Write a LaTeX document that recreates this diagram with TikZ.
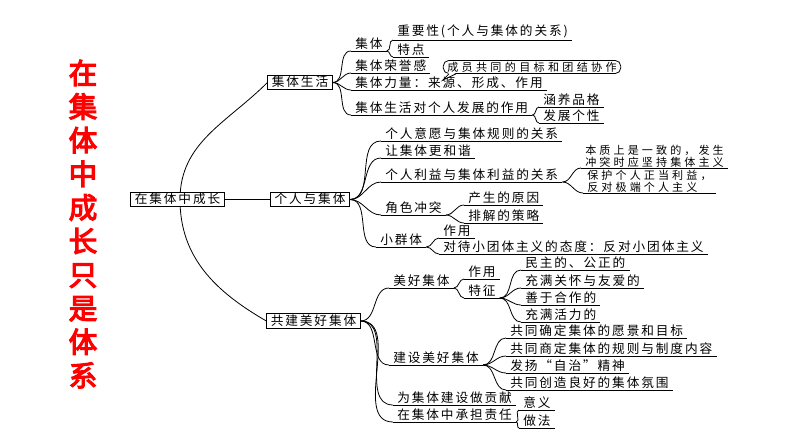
\documentclass[tikz,border=0pt]{standalone}
\usepackage{fontspec}
\setmainfont{Noto Sans CJK SC}[LetterSpace=15]
\newfontfamily\titlefont{Noto Sans CJK SC}[AutoFakeBold=4]
\newfontfamily\notefont{Noto Sans CJK SC}[LetterSpace=30]
\newfontfamily\pairfont{Noto Sans CJK SC}[LetterSpace=28]
\usetikzlibrary{calc}
\tikzset{% styles for the mind map
  box/.style={draw, fill=white, line width=0.6pt, inner xsep=3pt, inner ysep=1pt,
    text height=7.5pt, text depth=1.5pt, font=\fontsize{9.5}{11}\selectfont},
  item/.style={anchor=south west, inner xsep=3pt, inner ysep=1pt,
    font=\fontsize{9.5}{11}\selectfont},
  twoline/.style={item, inner ysep=0.2pt, align=left, font=\pairfont\fontsize{8.3}{7.7}\selectfont},
  link/.style={line width=0.6pt}
}

\begin{document}
\begin{tikzpicture}[x=0.75pt, y=-0.75pt]
\useasboundingbox (0,0) rectangle (794,447);

% title
\node [text=red, align=center, font=\titlefont\bfseries\fontsize{21.5}{25.2}\selectfont] (title) at (83,224)
  {在\\集\\体\\中\\成\\长\\只\\是\\体\\系};

% main branches
\node [box] (jtsh) at (300,82.5) {集体生活};
\node [box] (grjt) at (310,199.5) {个人与集体};
\node [box] (gjjt) at (313.5,321) {共建美好集体};
\coordinate (hub) at (180,199.5);
\draw [link] (jtsh.west) to[out=225,in=90] (hub) to[out=-90,in=150] (gjjt.west);
\node [box] (root) at (177.5,199.5) {在集体中成长};
\draw [link] (root.east) -- (grjt.west);

% first branch
\node [item] (jt) at (351,51) {集体};
\node [item] (zyx) at (393,40) {重要性(个人与集体的关系)};
\node [item] (td) at (393,57) {特点};
\node [item] (ryg) at (351,73) {集体荣誉感};
\node [item] (ll) at (351,90) {集体力量：来源、形成、作用};
\node [item] (zy) at (351,115) {集体生活对个人发展的作用};
\node [item] (hy) at (539,107) {涵养品格};
\node [item] (fz) at (539,123) {发展个性};
\node [draw, fill=white, rounded corners=4pt, line width=0.6pt, inner xsep=3pt, inner ysep=1pt,
  font=\notefont\fontsize{8.3}{9}\selectfont] (cb) at (532,67) {成员共同的目标和团结协作};
\coordinate (tip) at (443,80);
\fill [white] ($(cb.south west)+(6,-1)$) -- (tip) -- ($(cb.south west)+(13,-1)$) -- cycle;
\draw [link] ($(cb.south west)+(6,0)$) -- (tip) -- ($(cb.south west)+(13,0)$);

% second branch
\node [item] (yy) at (381,141) {个人意愿与集体规则的关系};
\node [item] (hx) at (381,158) {让集体更和谐};
\node [item] (ly) at (381,182) {个人利益与集体利益的关系};
\node [twoline] (yz) at (581,168) {本质上是一致的，发生\\冲突时应坚持集体主义};
\node [twoline] (bh) at (583,193) {保护个人正当利益，\\反对极端个人主义};
\node [item] (jsct) at (381,215) {角色冲突};
\node [item] (yuany) at (464,205) {产生的原因};
\node [item] (cel) at (464,223) {排解的策略};
\node [item] (xqt) at (376,247) {小群体};
\node [item] (zyb) at (439,238) {作用};
\node [item] (tdb) at (439,254) {对待小团体主义的态度：反对小团体主义};

% third branch
\node [item] (mhjt) at (389,288) {美好集体};
\node [item] (zyc) at (464,279) {作用};
\node [item] (tz) at (464,298) {特征};
\node [item] (mz) at (521,270) {民主的、公正的};
\node [item] (ga) at (521,288) {充满关怀与友爱的};
\node [item] (hz) at (521,305) {善于合作的};
\node [item] (hl) at (521,322) {充满活力的};
\node [item] (jsmh) at (389,365) {建设美好集体};
\node [item] (yj) at (506,338) {共同确定集体的愿景和目标};
\node [item] (gz) at (506,356) {共同商定集体的规则与制度内容};
\node [item] (zz) at (506,373) {发扬“自治”精神};
\node [item] (fw) at (506,390) {共同创造良好的集体氛围};
\node [item] (gx) at (393,405) {为集体建设做贡献};
\node [item] (zr) at (393,422) {在集体中承担责任};
\node [item] (yi) at (519,410) {意义};
\node [item] (zf) at (519,428) {做法};

% underlines
\foreach \n in {jt,zyx,td,ryg,ll,zy,hy,fz,yy,hx,ly,yz,bh,jsct,yuany,cel,xqt,zyb,tdb,
  mhjt,zyc,tz,mz,ga,hz,hl,jsmh,yj,gz,zz,fw,gx,zr,yi,zf}
  \draw [link] (\n.south west) -- (\n.south east);

% connectors
\foreach \p/\c in {jtsh.east/jt, jtsh.east/ryg, jtsh.east/ll, jtsh.east/zy,
  jt.south east/zyx, jt.south east/td, zy.south east/hy, zy.south east/fz,
  grjt.east/yy, grjt.east/hx, grjt.east/ly, grjt.east/jsct, grjt.east/xqt,
  ly.south east/yz, ly.south east/bh, jsct.south east/yuany, jsct.south east/cel,
  xqt.south east/zyb, xqt.south east/tdb,
  gjjt.east/mhjt, gjjt.east/jsmh, gjjt.east/gx, gjjt.east/zr,
  mhjt.south east/zyc, mhjt.south east/tz,
  tz.south east/mz, tz.south east/ga, tz.south east/hz, tz.south east/hl,
  jsmh.south east/yj, jsmh.south east/gz, jsmh.south east/zz, jsmh.south east/fw,
  zr.south east/yi, zr.south east/zf}
  \draw [link] (\p) to[out=0,in=180] (\c.south west);

\end{tikzpicture}
\end{document}
